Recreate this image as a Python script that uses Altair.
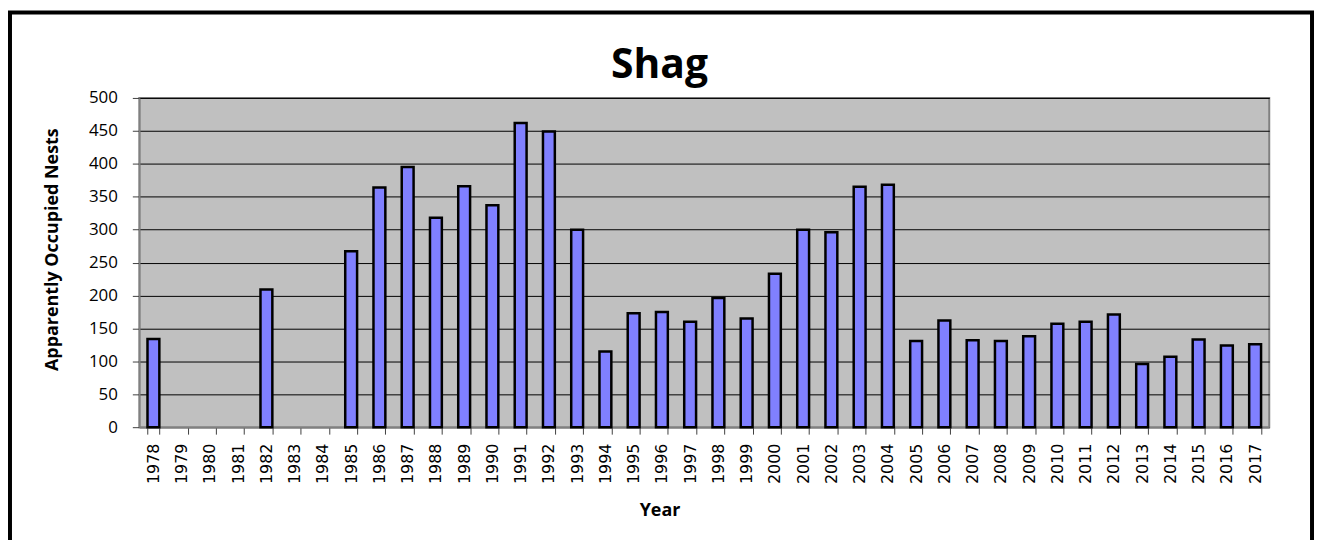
import altair as alt
import pandas as pd

years = ["1978", "1979", "1980", "1981", "1982", "1983", "1984", "1985", "1986", "1987",
         "1988", "1989", "1990", "1991", "1992", "1993", "1994", "1995", "1996", "1997",
         "1998", "1999", "2000", "2001", "2002", "2003", "2004", "2005", "2006", "2007",
         "2008", "2009", "2010", "2011", "2012", "2013", "2014", "2015", "2016", "2017"]
nests = [134, None, None, None, 209, None, None, 267, 364, 395,
         318, 366, 337, 462, 449, 300, 115, 173, 175, 160,
         196, 165, 233, 300, 296, 365, 368, 131, 162, 132,
         131, 138, 157, 160, 171, 96, 107, 133, 124, 126]
y_ticks = [0, 50, 100, 150, 200, 250, 300, 350, 400, 450, 500]
chart_title = "Shag"

df = pd.DataFrame({"Year": years, "Nests": nests})
df = df.dropna()

W, H = 1136, 331

bars = alt.Chart(df).mark_bar(fill="#8080FF", stroke="black", strokeWidth=2.5).encode(
    x=alt.X("Year:O", sort=years,
            scale=alt.Scale(domain=years, paddingInner=0.58, paddingOuter=0.29),
            axis=alt.Axis(title="Year", labelAngle=270, labelFont="DejaVu Sans",
                          labelFontSize=16, labelColor="black", labelPadding=9,
                          tickBand="extent", tickSize=7, tickColor="#404040",
                          domainColor="#808080", domainWidth=1.5,
                          titleFont="Open Sans", titleFontSize=18, titleFontWeight="bold",
                          titleColor="black", titleX=523, titleY=89,
                          titleAlign="center", titleBaseline="alphabetic")),
    y=alt.Y("Nests:Q", scale=alt.Scale(domain=[0, 500], nice=False),
            axis=alt.Axis(title="Apparently Occupied Nests", values=y_ticks,
                          labelFont="Open Sans", labelFontSize=17, labelColor="black",
                          labelPadding=15, tickSize=7, tickColor="#404040",
                          domainColor="#808080", domainWidth=1.5,
                          grid=True, gridColor="black", gridWidth=1,
                          titleFont="Open Sans", titleFontSize=18, titleFontWeight="bold",
                          titleColor="black", titleAngle=270, titleX=-87, titleY=152,
                          titleAlign="center", titleBaseline="middle")),
)

one = pd.DataFrame({"label": [chart_title]})

frame = alt.Chart(one).mark_rect(
    filled=False, stroke="black", strokeWidth=4, clip=False
).encode(
    x=alt.value(-130), x2=alt.value(1179), y=alt.value(-86), y2=alt.value(H + 130)
)

title = alt.Chart(one).mark_text(
    font="Open Sans", fontSize=41, fontWeight="bold", color="black",
    align="center", baseline="alphabetic", clip=False
).encode(
    text="label:N", x=alt.value(523), y=alt.value(-20)
)

chart = alt.layer(bars, frame, title).properties(
    width=W, height=H,
    padding={"left": 132, "top": 89, "right": 46, "bottom": 112},
    autosize=alt.AutoSizeParams(type="none"),
    background="white",
).configure_view(
    fill="#C0C0C0", stroke="#808080", strokeWidth=2
)

chart.save("out.html", embed_options={"renderer": "svg", "actions": False})
